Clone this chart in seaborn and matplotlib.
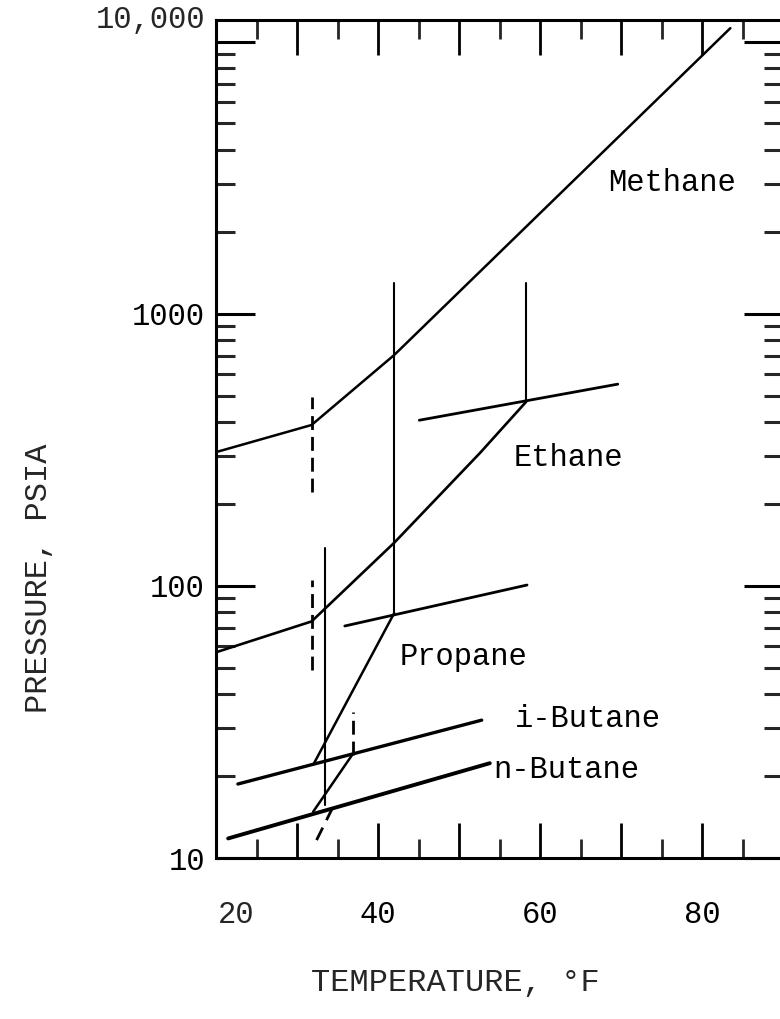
import numpy as np
import pandas as pd
import matplotlib
matplotlib.use("Agg")
import matplotlib.pyplot as plt
from matplotlib.ticker import FixedLocator, FixedFormatter, NullFormatter
import seaborn as sns

# ---------------- data (temperature °F, pressure psia) ----------------
methane_T = [20.0, 31.8, 42.0, 83.5]
methane_P = [310, 390, 705, 11200]

ethane_T = [20.0, 31.8, 42.0, 52.6, 58.3]
ethane_P = [57, 74, 144, 308, 475]
ethane_vp_T = [45.1, 69.6]
ethane_vp_P = [406, 551]

propane_T = [32.0, 42.0]
propane_P = [22.0, 79.4]
propane_vp_T = [35.9, 58.4]
propane_vp_P = [71.2, 100.7]

ibutane_T = [32.0, 36.8]
ibutane_P = [14.8, 23.9]
ibutane_vp_T = [22.7, 52.8]
ibutane_vp_P = [18.7, 32.1]

nbutane_vp_T = [21.5, 53.8]
nbutane_vp_P = [11.8, 22.3]

# solid vertical lines (upper quadruple points)
q2_T = [33.5, 42.0, 58.3]
q2_P_low = [15.7, 79.4, 475]
q2_P_high = [138, 1300, 1300]

# dashed vertical lines (ice point)
q1_T = [31.8, 31.8, 36.9]
q1_P_low = [221, 49, 23.9]
q1_P_high = [494, 105, 34.4]

dash_diag_T = [34.4, 32.3]
dash_diag_P = [15.3, 11.45]

curve_names = ["Methane", "Ethane", "Propane", "i-Butane", "n-Butane"]

x_major = [20, 30, 40, 50, 60, 70, 80]
x_major_labels = ["", "", "40", "", "60", "", "80"]
x_minor = [25, 35, 45, 55, 65, 75, 85]
y_major = [10, 100, 1000, 10000]
y_major_labels = ["10", "100", "1000", ""]
y_minor = [m * d for d in (10, 100, 1000) for m in range(2, 10)]

# ---------------- style ----------------
sns.set_theme(style="white")
FONT = ["Liberation Mono", "DejaVu Sans Mono"]
plt.rcParams["font.family"] = FONT
plt.rcParams["axes.linewidth"] = 2.2

W, H = 780, 1019
fig = plt.figure(figsize=(W / 100, H / 100), dpi=100)
fig.patch.set_facecolor("white")
L, R, B, T = 216, 783, 858, 20
ax = fig.add_axes([L / W, (H - B) / H, (R - L) / W, (B - T) / H])
ax.set_facecolor("white")
ax.set_yscale("log")
ax.set_xlim(20, 90)
ax.set_ylim(10, 12000)

def seg(xs, ys, lw, ls="-"):
    sns.lineplot(x=xs, y=ys, ax=ax, color="black", linewidth=lw, linestyle=ls,
                 estimator=None, sort=False, legend=False)

seg(methane_T, methane_P, 1.8)
seg(ethane_T, ethane_P, 1.9)
seg(ethane_vp_T, ethane_vp_P, 2.0)
seg(propane_T, propane_P, 1.8)
seg(propane_vp_T, propane_vp_P, 2.0)
seg(ibutane_T, ibutane_P, 1.8)
seg(ibutane_vp_T, ibutane_vp_P, 2.4)
seg(nbutane_vp_T, nbutane_vp_P, 2.8)
for t, lo, hi in zip(q2_T, q2_P_low, q2_P_high):
    seg([t, t], [lo, hi], 1.5)
for t, lo, hi in zip(q1_T, q1_P_low, q1_P_high):
    seg([t, t], [lo, hi], 2.0, (0, (5, 2.5)))
seg(dash_diag_T, dash_diag_P, 2.0, (0, (5, 3)))

# ---------------- curve labels ----------------
lab_kw = dict(fontsize=22, color="black", va="center", ha="left", family=FONT)
ax.text(68.4, 3020, curve_names[0], **lab_kw)
ax.text(56.7, 295, curve_names[1], **lab_kw)
ax.text(42.7, 54.7, curve_names[2], **lab_kw)
ax.text(56.9, 32.4, curve_names[3], **lab_kw)
ax.text(54.2, 21.0, curve_names[4], **lab_kw)

# ---------------- ticks ----------------
ax.xaxis.set_major_locator(FixedLocator(x_major))
ax.xaxis.set_major_formatter(FixedFormatter(x_major_labels))
ax.xaxis.set_minor_locator(FixedLocator(x_minor))
ax.xaxis.set_minor_formatter(NullFormatter())
ax.yaxis.set_major_locator(FixedLocator(y_major))
ax.yaxis.set_major_formatter(FixedFormatter(y_major_labels))
ax.yaxis.set_minor_locator(FixedLocator(y_minor))
ax.yaxis.set_minor_formatter(NullFormatter())

ax.tick_params(axis="x", which="major", direction="in", length=25, width=2.0,
               top=True, bottom=True, labelsize=22, pad=30, colors="black")
ax.tick_params(axis="x", which="minor", direction="in", length=14, width=2.0,
               top=True, bottom=True)
ax.tick_params(axis="y", which="major", direction="in", length=28, width=2.2,
               left=True, right=True, labelsize=22, pad=8, colors="black")
ax.tick_params(axis="y", which="minor", direction="in", length=14, width=2.2,
               left=True, right=True)
for lbl in ax.get_xticklabels() + ax.get_yticklabels():
    lbl.set_family(FONT)

# extra tick-label text placed like the original
ax.text(22.5, -30 * 1.389 / (B - T), "20", transform=ax.get_xaxis_transform(),
        ha="center", va="top", fontsize=22, family=FONT)
ax.text(-11 / (R - L), 12000, "10,000", transform=ax.get_yaxis_transform(),
        ha="right", va="center", fontsize=22, family=FONT)

for s in ax.spines.values():
    s.set_color("black")
    s.set_linewidth(2.2)

ax.set_xlabel("TEMPERATURE, °F", fontsize=23, family=FONT)
ax.set_ylabel("PRESSURE, PSIA", fontsize=23, family=FONT)
ax.xaxis.set_label_coords((455 - L) / (R - L), -(968 - B) / (B - T))
ax.yaxis.set_label_coords((54 - L) / (R - L), (B - 578) / (B - T))

fig.savefig("out.png", dpi=100, facecolor="white")
